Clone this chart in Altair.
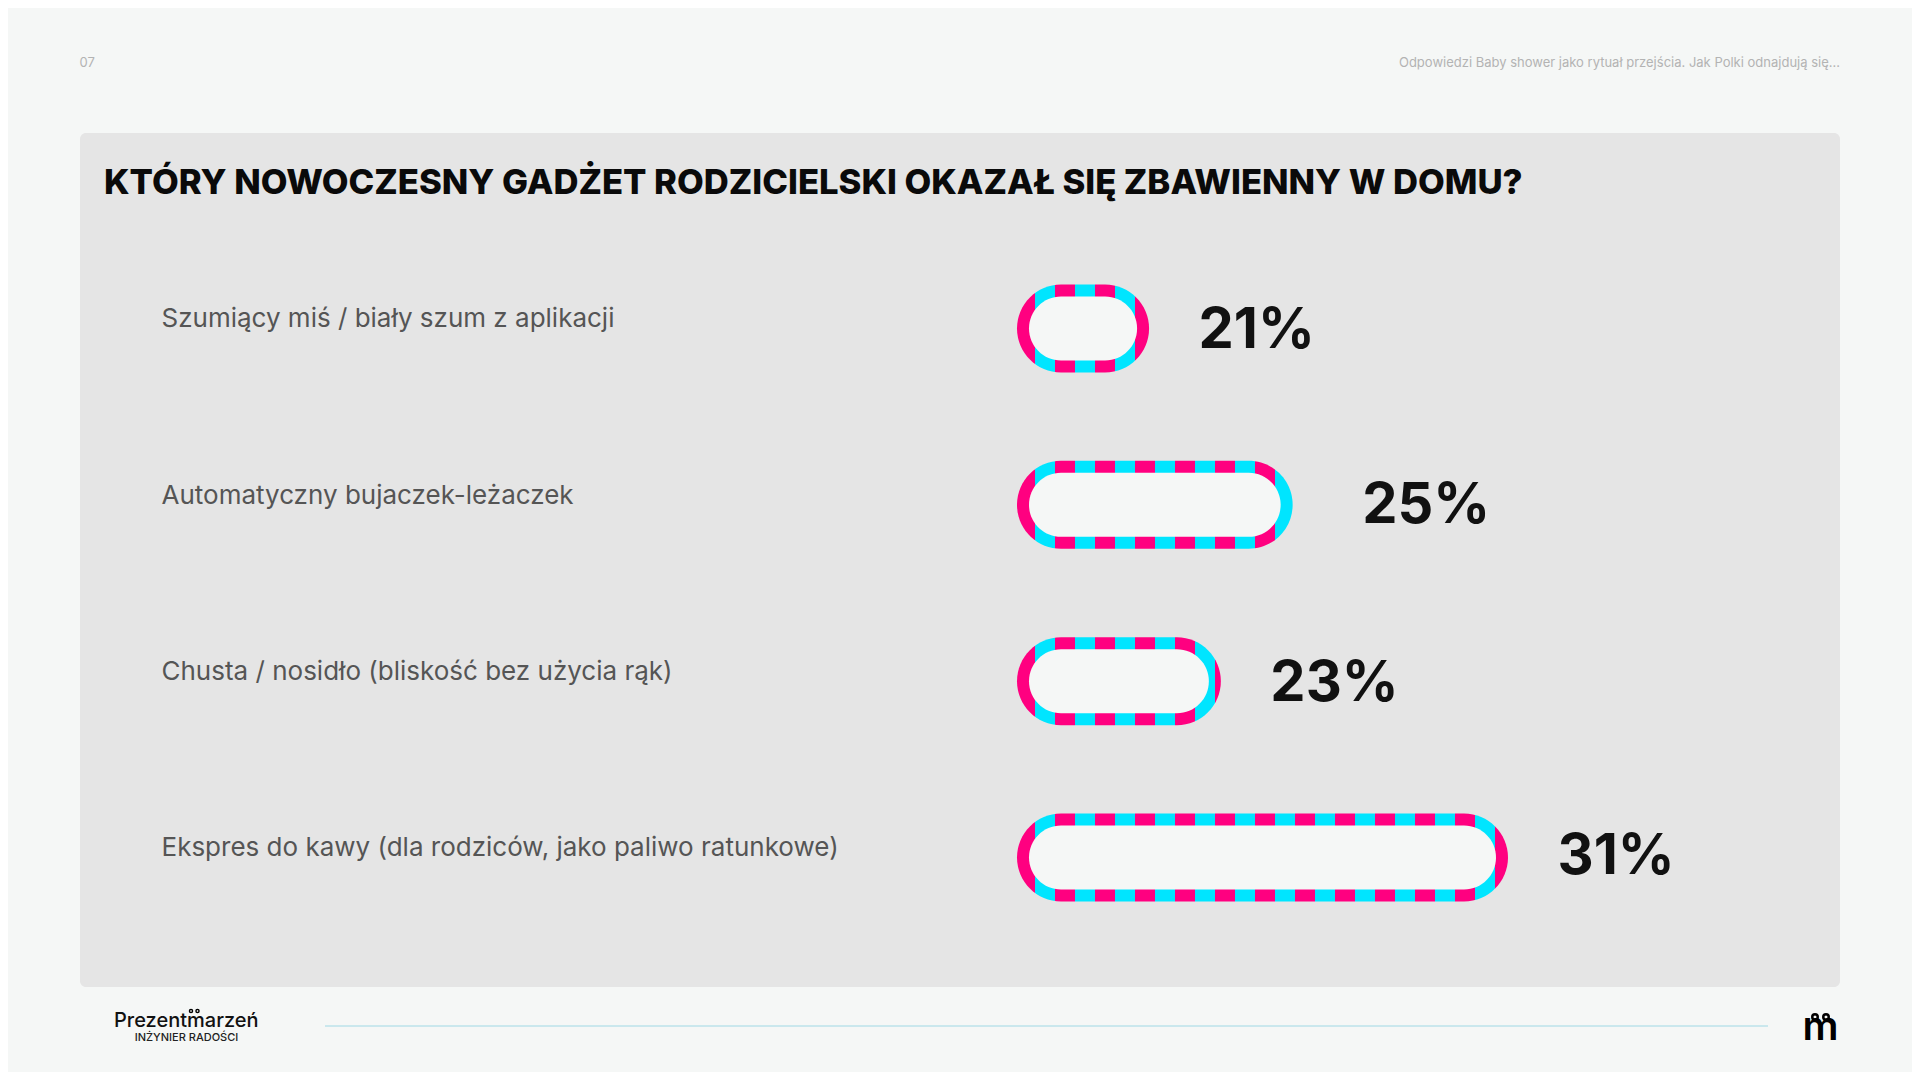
import altair as alt
import pandas as pd

labels = [
    "Szumiący miś / biały szum z aplikacji",
    "Automatyczny bujaczek-leżaczek",
    "Chusta / nosidło (bliskość bez użycia rąk)",
    "Ekspres do kawy (dla rodziców, jako paliwo ratunkowe)",
]
values = [21, 25, 23, 31]
pct_labels = ["21%", "25%", "23%", "31%"]

title = "KTÓRY NOWOCZESNY GADŻET RODZICIELSKI OKAZAŁ SIĘ ZBAWIENNY W DOMU?"
header = "Odpowiedzi Baby shower jako rytuał przejścia. Jak Polki odnajdują się..."
page_no = "07"

OFF = 8
BG, PANEL = "#f5f7f6", "#e5e5e5"
PINK, CYAN = "#ff0080", "#00e5ff"
FONT = "Inter"

BASE = 17.32  # value at which the bars start (truncated axis)
x_scale = alt.Scale(domain=[BASE, 31], range=[1017 - OFF, 1508 - OFF])
y_scale = alt.Scale(type="point", domain=labels, range=[328.5 - OFF, 857.5 - OFF], padding=0)
PX_PER_UNIT = (1508 - 1017) / (31 - BASE)

df = pd.DataFrame({"label": labels, "v": values, "pct": pct_labels, "base": BASE})

X = alt.X("v:Q", scale=x_scale, axis=None)
X2 = alt.X2("base:Q")
Y = alt.Y("label:N", scale=y_scale, axis=None, sort=None)


def stripes(width):
    """Hard-stop gradient: 20px vertical stripes aligned to the first bar's left edge."""
    period = 20
    start = -2  # stripe phase relative to the bar's left edge
    stops, pos, i = [], start, 0
    while pos < width:
        colour = PINK if i % 2 == 0 else CYAN
        a = max(pos, 0) / width
        b = min(pos + period, width) / width
        stops += [alt.GradientStop(offset=a, color=colour), alt.GradientStop(offset=b, color=colour)]
        pos += period
        i += 1
    return alt.LinearGradient(gradient="linear", stops=stops, x1=0, x2=1, y1=0, y2=0)


def px(v):
    return alt.value(v - OFF)


def deco_text(text, x, y, **kw):
    return alt.Chart(pd.DataFrame({"t": [text]})).mark_text(font=FONT, **kw).encode(
        text="t:N", x=px(x), y=px(y)
    )


layers = []

# panel
layers.append(
    alt.Chart(pd.DataFrame({"a": [0]})).mark_rect(color=PANEL, cornerRadius=6).encode(
        x=px(80), x2=px(1840), y=px(133), y2=px(987)
    )
)

# header / title
layers.append(deco_text(page_no, 79.5, 63, fontSize=13, color="#b3b3b3", align="left", baseline="middle"))
layers.append(deco_text(header, 1840, 63, fontSize=13, color="#b3b3b3", align="right", baseline="middle"))
layers.append(deco_text(title, 104, 183.5, fontSize=34.65, fontWeight=800, color="#0a0a0a", align="left", baseline="middle"))

# bars, percentages
dx_pct = [49.5, 69.5, 49.5, 49.5]
dy_pct = [2.5, 1.5, 2.5, -0.5]
for i, v in enumerate(values):
    sub = df[df["label"] == labels[i]]
    w = (v - BASE) * PX_PER_UNIT
    outer = alt.Chart(sub).mark_bar(size=88, cornerRadius=44, fill=stripes(w)).encode(x=X, x2=X2, y=Y)
    inner = alt.Chart(sub).mark_bar(size=64, cornerRadius=32, fill=BG, xOffset=-12, x2Offset=12).encode(x=X, x2=X2, y=Y)
    pct = alt.Chart(sub).mark_text(
        font=FONT, fontSize=56, fontWeight=700, color="#111111", align="left", baseline="middle",
        dx=dx_pct[i], dy=dy_pct[i],
    ).encode(x=X, y=Y, text="pct:N")
    layers += [outer, inner, pct]

# row labels
layers.append(
    alt.Chart(df).mark_text(
        font=FONT, fontSize=26, color="#555555", align="left", baseline="middle", dy=-9.2
    ).encode(x=px(161.5), y=Y, text="label:N")
)

# footer
layers.append(
    alt.Chart(pd.DataFrame({"a": [0]})).mark_rule(color="#9fd8e4", strokeWidth=1).encode(
        x=px(325), x2=px(1768), y=px(1026)
    )
)
layers.append(deco_text("Prezentmarzeń", 114, 1021, fontSize=20, fontWeight=500, color="#111111", align="left", baseline="middle"))
layers.append(deco_text("INŻYNIER RADOŚCI", 186.5, 1038, fontSize=11, fontWeight=500, color="#222222", align="center", baseline="middle"))
layers.append(deco_text("m", 1820.5, 1028, fontSize=40, fontWeight=600, color="#000000", align="center", baseline="middle"))
for bx, by, size, sw in [(1815, 1017, 30, 2.5), (1826, 1017, 30, 2.5), (191, 1011, 10, 1.4), (197.5, 1011, 10, 1.4)]:
    layers.append(
        alt.Chart(pd.DataFrame({"a": [0]})).mark_point(
            shape="circle", filled=False, size=size, stroke="#000000", strokeWidth=sw, opacity=1
        ).encode(x=px(bx), y=px(by))
    )

chart = (
    alt.layer(*layers)
    .properties(
        width=1904,
        height=1064,
        padding=0,
        background=BG,
        autosize=alt.AutoSizeParams(type="none"),
    )
    .configure_view(stroke=None)
)

chart.save("out.html", embed_options={"renderer": "svg", "actions": False})
